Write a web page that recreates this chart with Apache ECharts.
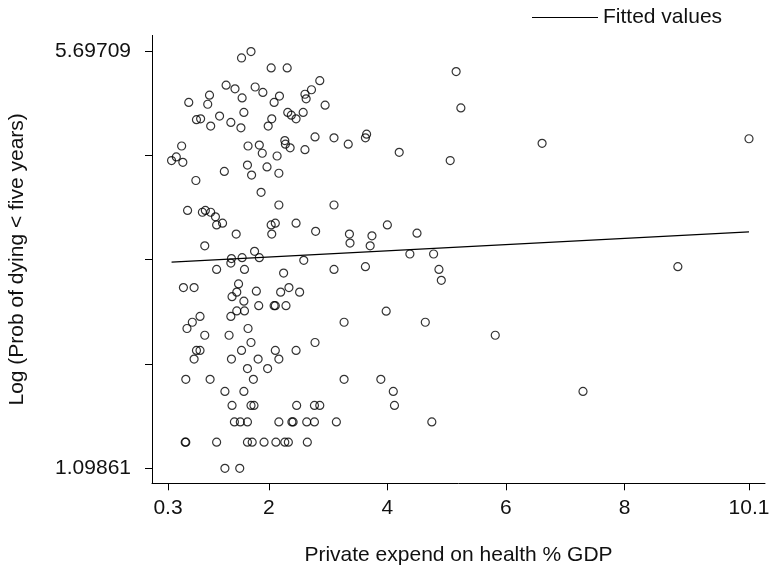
<!DOCTYPE html>
<html>
<head>
<meta charset="utf-8">
<script src="https://cdn.jsdelivr.net/npm/echarts@6/dist/echarts.min.js"></script>
<style>
html,body{margin:0;padding:0;background:#fff;}
#chart{width:769px;height:566px;}
</style>
</head>
<body>
<div id="chart"></div>
<script>
// Private expenditure on health (% GDP)
const expend = [
  1.70,1.54,2.04,2.31,2.86,1.28,1.43,1.77,1.90,1.00,
  1.55,2.18,2.09,2.61,2.72,2.63,0.65,0.97,2.95,1.58,
  2.32,2.38,2.58,2.46,0.78,0.85,1.17,1.36,1.53,1.02,
  2.05,1.99,2.27,2.28,2.36,2.78,3.10,3.34,2.61,1.65,
  1.84,1.89,2.14,0.53,0.44,0.36,0.55,1.64,1.97,1.25,
  1.71,2.17,0.77,1.87,2.17,3.10,0.63,0.88,0.93,1.02,
  1.10,1.12,1.22,2.04,2.11,2.05,2.46,2.79,3.36,3.37,
  1.45,0.92,1.76,1.55,1.84,1.37,1.36,2.59,1.12,1.59,
  3.10,2.25,1.49,0.56,0.74,1.79,2.20,2.34,2.52,1.46,
  1.38,1.58,1.83,2.09,2.11,2.29,1.46,1.59,0.84,1.36,
  0.71,3.27,0.62,0.92,1.33,1.65,1.70,2.78,0.78,0.84,
  0.74,1.54,1.37,1.82,2.11,2.17,2.46,1.64,1.98,0.60,
  1.01,1.74,3.27,1.26,1.58,1.38,1.70,1.75,2.47,2.77,
  2.86,1.42,1.52,1.64,2.17,2.39,2.41,2.64,2.77,3.14,
  0.59,0.60,1.12,1.64,1.72,1.92,2.12,2.27,2.33,2.65,
  1.26,1.51,
  5.16,5.24,3.65,3.63,4.20,5.06,6.61,4.00,3.74,4.50,
  3.71,4.38,4.78,3.63,4.87,4.91,3.98,4.64,5.82,3.89,
  4.10,4.12,4.75,10.1,8.90,7.30
];
// Log (probability of dying before age five)
const logMort = [
  5.69,5.62,5.51,5.51,5.37,5.32,5.28,5.30,5.24,5.21,
  5.18,5.20,5.13,5.22,5.27,5.17,5.13,5.11,5.10,5.02,
  5.02,4.99,5.02,4.95,4.94,4.95,4.98,4.91,4.85,4.87,
  4.95,4.87,4.71,4.67,4.63,4.75,4.74,4.67,4.61,4.65,
  4.66,4.57,4.54,4.65,4.53,4.49,4.47,4.44,4.42,4.37,
  4.33,4.35,4.27,4.14,4.00,4.00,3.94,3.92,3.94,3.92,
  3.87,3.78,3.80,3.78,3.80,3.68,3.80,3.71,3.68,3.58,
  3.68,3.55,3.49,3.42,3.42,3.41,3.36,3.39,3.29,3.29,
  3.29,3.25,3.13,3.09,3.09,3.05,3.04,3.09,3.04,3.04,
  2.99,2.94,2.8904,2.8904,2.8904,2.8904,2.8332,2.8332,2.7726,2.7726,
  2.7081,2.7081,2.6391,2.5649,2.5649,2.6391,2.4849,2.4849,2.3979,2.3979,
  2.3026,2.3979,2.3026,2.3026,2.3979,2.3026,2.3979,2.1972,2.1972,2.0794,
  2.0794,2.0794,2.0794,1.9459,1.9459,1.7918,1.7918,1.7918,1.7918,1.7918,
  1.7918,1.6094,1.6094,1.6094,1.6094,1.6094,1.6094,1.6094,1.6094,1.6094,
  1.3863,1.3863,1.3863,1.3863,1.3863,1.3863,1.3863,1.3863,1.3863,1.3863,
  1.0986,1.0986,
  5.47,5.07,4.78,4.74,4.58,4.49,4.68,3.78,3.66,3.69,
  3.55,3.46,3.46,3.32,3.29,3.17,2.83,2.7081,2.5649,2.0794,
  1.9459,1.7918,1.6094,4.73,3.32,1.9459
];
// Fitted values (linear fit) at the data range ends
const fitX = [0.36, 10.1];
const fitY = [3.371, 3.704];
// Tick marks and labels
const xTicks = [0.3, 2, 4, 6, 8, 10.1];
const yTicks = [1.09861, 2.24823, 3.39785, 4.54747, 5.69709];
const yLabels = [1.09861, 5.69709];

const FONT = 'Liberation Sans';
const scatterData = expend.map((x, i) => [x, logMort[i]]);
const fitData = fitX.map((x, i) => [x, fitY[i]]);

const chart = echarts.init(document.getElementById('chart'), null, {renderer: 'canvas'});
chart.setOption({
  animation: false,
  backgroundColor: '#fff',
  textStyle: {fontFamily: FONT, color: '#111'},
  legend: {
    data: [{name: 'Fitted values', icon: 'rect'}],
    left: 527, top: 2,
    itemWidth: 66, itemHeight: 1.2,
    itemStyle: {color: '#000'},
    textStyle: {fontFamily: FONT, fontSize: 21, color: '#111'},
    selectedMode: false
  },
  grid: {left: 152, right: 4, top: 35.4, bottom: 82.7, containLabel: false, outerBoundsMode: 'none'},
  xAxis: {
    type: 'value', min: 0.03, max: 10.37,
    axisLine: {show: true, onZero: false, lineStyle: {color: '#000', width: 1}},
    axisTick: {show: true, length: 7, customValues: xTicks, lineStyle: {color: '#000', width: 1}},
    axisLabel: {customValues: xTicks, fontSize: 21, margin: 14, color: '#111', fontFamily: FONT},
    splitLine: {show: false},
    name: 'Private expend on health % GDP',
    nameLocation: 'middle', nameGap: 61,
    nameTextStyle: {fontSize: 21, color: '#111', fontFamily: FONT}
  },
  yAxis: {
    type: 'value', min: 0.9336, max: 5.8687,
    axisLine: {show: true, onZero: false, lineStyle: {color: '#000', width: 1}},
    axisTick: {show: true, length: 7, customValues: yTicks, lineStyle: {color: '#000', width: 1}},
    axisLabel: {customValues: yLabels, fontSize: 21, margin: 21, color: '#111', fontFamily: FONT,
      formatter: v => String(v)},
    splitLine: {show: false},
    name: 'Log (Prob of dying < five years)',
    nameLocation: 'middle', nameGap: 124,
    nameTextStyle: {fontSize: 21, color: '#111', fontFamily: FONT}
  },
  series: [
    {
      type: 'scatter', name: 'obs', data: scatterData,
      symbol: 'circle', symbolSize: 8,
      itemStyle: {color: 'rgba(0,0,0,0)', borderColor: '#000', borderWidth: 1.2},
      emphasis: {disabled: true}, silent: true
    },
    {
      type: 'line', name: 'Fitted values', data: fitData,
      symbol: 'none', color: '#000',
      lineStyle: {color: '#000', width: 1.2},
      emphasis: {disabled: true}, silent: true
    }
  ]
});
</script>
</body>
</html>
